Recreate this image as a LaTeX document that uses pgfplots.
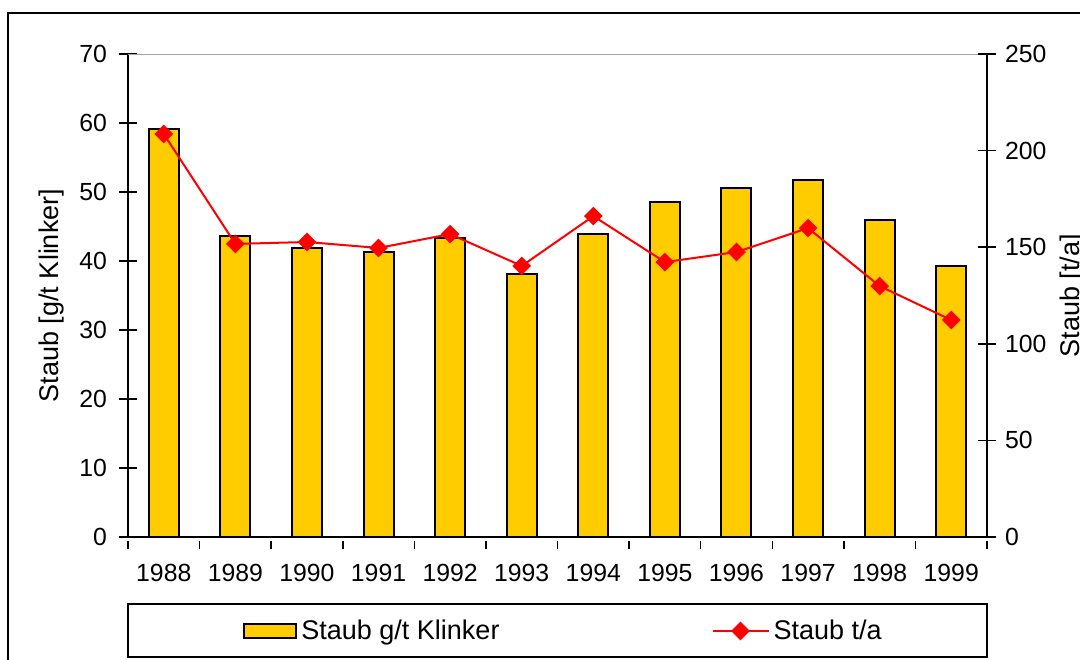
\documentclass[border=0pt]{standalone}
\usepackage{pgfplots}
\pgfplotsset{compat=1.18}
\usepackage{fontspec}
\setmainfont{Liberation Sans}
\definecolor{barcol}{HTML}{FFCC00}
\pgfplotsset{
  barleg/.style={legend image code/.code={\draw[fill=barcol,draw=black,line width=1pt] (0pt,-3.5pt) rectangle (26pt,3.5pt);}},
  lineleg/.style={legend image code/.code={\draw[mark repeat=2,mark phase=2,##1] plot coordinates {(0pt,0pt) (14pt,0pt) (28pt,0pt)};}},
}
\begin{document}
\begin{tikzpicture}
\pgfplotsset{
  every axis/.append style={
    /pgf/number format/assume math mode=true,
    tick label style={font=\fontsize{12.4}{14}\selectfont},
    label style={font=\fontsize{13.5}{16}\selectfont},
    width=429.5pt, height=241.5pt, scale only axis,
    at={(0,0)}, anchor=south west,
    xmin=-0.5, xmax=11.5,
    axis line style={line width=0.75pt},
    every tick/.style={black, line width=0.75pt},
    tick align=center, major tick length=9pt,
  },
}
% bars, left axis
\begin{axis}[
  ybar, bar width=15pt,
  ymin=0, ymax=70, ytick={0,10,...,70},
  axis y line*=left, axis x line*=bottom,
  xtick={0,...,11},
  xticklabels={1988,1989,1990,1991,1992,1993,1994,1995,1996,1997,1998,1999},
  major x tick style={draw=none},
  minor xtick={-0.5,0.5,...,11.5},
  minor tick length=4pt,
  minor x tick style={yshift=-2pt},
  xticklabel shift=1pt,
  yticklabel shift=2.5pt,
  ylabel={Staub [g/t Klinker]},
  y label style={at={(axis description cs:-0.0885,0.5)}, anchor=center},
]
\addplot[fill=barcol, draw=black, line width=1pt] coordinates {
  (0,59.2) (1,43.6) (2,41.9) (3,41.3) (4,43.3) (5,38.1)
  (6,43.9) (7,48.5) (8,50.6) (9,51.7) (10,45.9) (11,39.3)
};
\draw[gray!70, line width=0.75pt] (rel axis cs:0,1) -- (rel axis cs:1,1);
\end{axis}
% line, right axis
\begin{axis}[
  ymin=0, ymax=250, ytick={0,50,...,250},
  axis y line*=right, axis x line=none,
  yticklabel shift=1pt,
  ylabel={Staub [t/a]},
  y label style={at={(axis description cs:1.1001,0.5)}, anchor=center},
  legend style={draw=none, fill=none, inner sep=0pt,
    at={(0.1339,-0.1946)}, anchor=west, legend columns=2,
    font=\fontsize{13.5}{16}\selectfont},
  legend cell align=left,
  /tikz/every even column/.append style={column sep=104pt},
]
\addlegendimage{barleg}
\addlegendentry{Staub g/t Klinker}
\addplot[red, line width=1pt, mark=square*, mark size=2.8pt,
  mark options={rotate=45, fill=red}, lineleg]
  coordinates {
  (0,208.6) (1,151.7) (2,152.7) (3,149.6) (4,156.8) (5,140.3)
  (6,166.1) (7,142.3) (8,147.5) (9,159.9) (10,129.9) (11,112.3)
};
\addlegendentry{Staub t/a}
\end{axis}
\draw[black, line width=0.75pt] (0pt,-33.5pt) rectangle (429.5pt,-60pt);
\draw[black, line width=0.75pt] (-60pt,262pt) rectangle (490pt,-70pt);
\pgfresetboundingbox
\path[use as bounding box] (-64pt,-61pt) rectangle (476pt,268.5pt);
\end{tikzpicture}
\end{document}
